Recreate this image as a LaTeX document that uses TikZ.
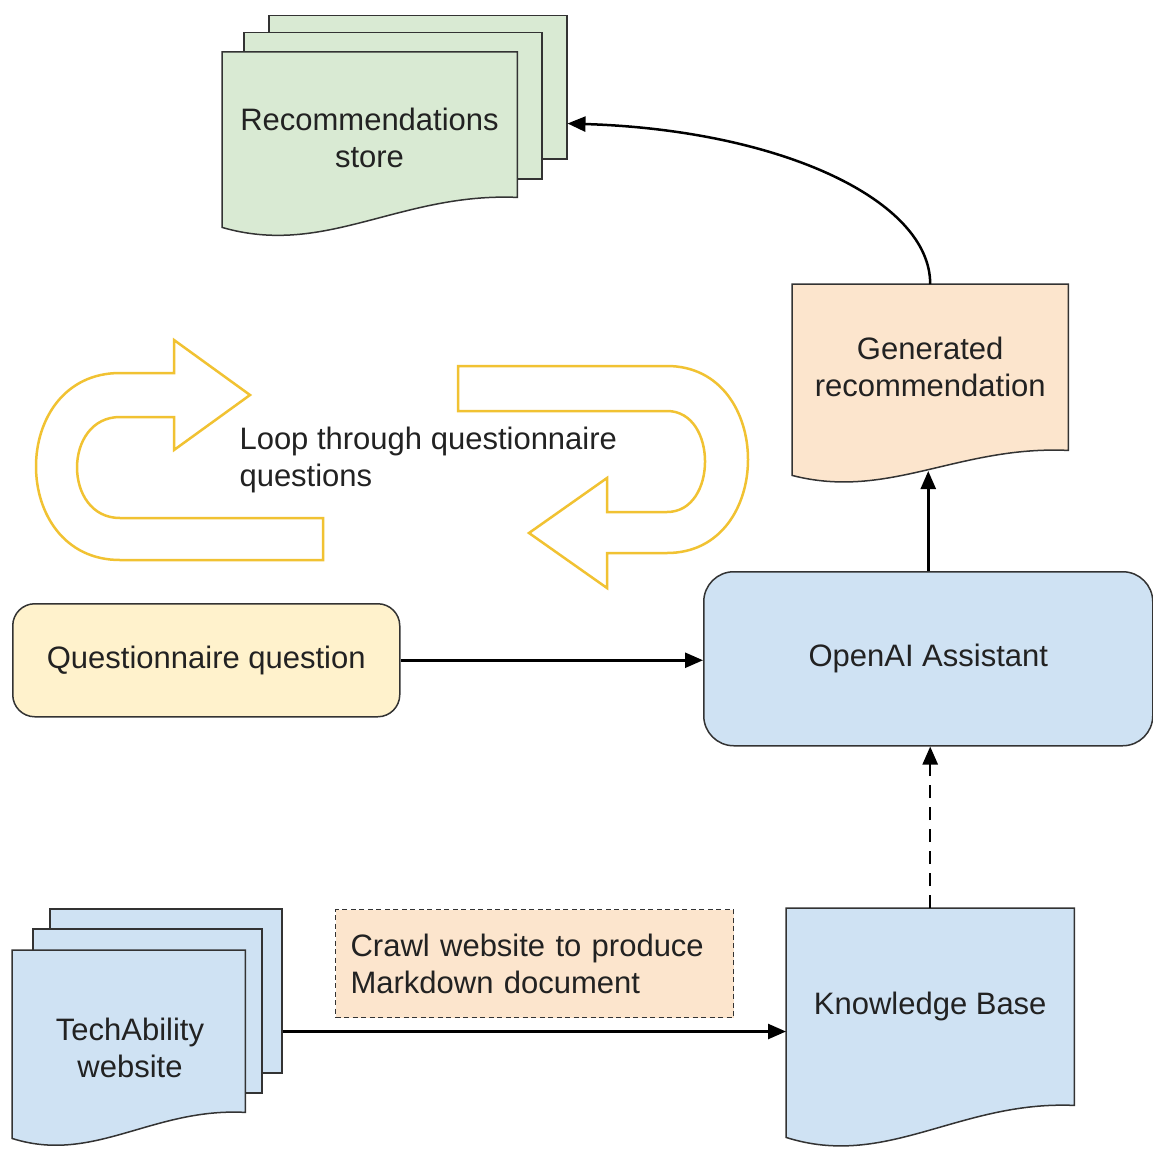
\documentclass[tikz,border=0pt]{standalone}
\usepackage{fontspec}
\setmainfont{Liberation Sans}
\usetikzlibrary{arrows.meta,calc}
\definecolor{cgreen}{HTML}{D9EAD3}
\definecolor{cblue}{HTML}{CFE2F3}
\definecolor{corange}{HTML}{FCE5CD}
\definecolor{cyellow}{HTML}{FFF2CC}
\definecolor{cgold}{HTML}{F1C232}
\definecolor{cline}{HTML}{333333}
\definecolor{ctext}{HTML}{222222}
\newcommand\docwave[3]{%
  \path[shapeline, fill=#2] let \p1=(#1.north west), \p2=(#1.south east) in
    (\p1) -- (\x2,\y1) -- (\p2)
    .. controls ({\x1+0.6*(\x2-\x1)},{\y2+5pt}) and ({\x1+0.35*(\x2-\x1)},{\y2-2*#3}) ..
    (\x1,{\y2-#3}) -- cycle;}
\begin{document}
\begin{tikzpicture}[x=1pt,y=-1pt,
  shapeline/.style={draw=cline, line width=1.5pt},
  sheet/.style={shapeline, inner sep=0pt, anchor=north west},
  shapebox/.style={draw=none, inner sep=0pt, anchor=north west, txt},
  txt/.style={font=\fontsize{31}{37}\selectfont, text=ctext, align=center},
  conn/.style={draw=black, line width=2.5pt, -{Triangle[length=18pt,width=15pt]}},
  loopline/.style={draw=cgold, line width=2.5pt, line join=miter},
]
\useasboundingbox[fill=white] (0,0) rectangle (1153,1148);

% Recommendations store stack
\node[sheet, fill=cgreen, minimum width=298, minimum height=143] (recB) at (268,15) {};
\node[sheet, fill=cgreen, minimum width=298, minimum height=146] (recM) at (243,32) {};
\node[shapebox, minimum width=295, minimum height=145] (recF) at (222,52) {};
\docwave{recF}{cgreen}{30pt}
\node[txt] (recT) at (369.5,138) {Recommendations\\store};

% Generated recommendation
\node[shapebox, minimum width=276, minimum height=166] (gen) at (792,284) {};
\docwave{gen}{corange}{25pt}
\node[txt] (genT) at (gen.center) {Generated\\recommendation};

% Loop arrows
\draw[loopline] (250,395) -- (174,450) -- (174,417) -- (120,417)
  .. controls (62.7,417) and (62.7,518) .. (120,518) -- (323,518) -- (323,560) -- (120,560)
  .. controls (8,560) and (8,373) .. (120,373) -- (174,373) -- (174,340) -- cycle;
\draw[loopline] (458,366) -- (667,366) .. controls (775,366) and (775,553) .. (667,553)
  -- (607,553) -- (607,588) -- (529,533) -- (607,478) -- (607,512) -- (667,512)
  .. controls (717.7,512) and (717.7,411) .. (667,411) -- (458,411) -- cycle;
\node[txt, align=left, anchor=west] (loopT) at (236,460) {Loop through questionnaire\\questions};

% Questionnaire question
\node[sheet, fill=cyellow, rounded corners=22pt, minimum width=387, minimum height=113, txt] (qq) at (12,603) {Questionnaire question};

% OpenAI Assistant
\node[sheet, fill=cblue, rounded corners=30pt, minimum width=449, minimum height=174, txt] (oa) at (703,571) {OpenAI Assistant};

% TechAbility stack
\node[sheet, fill=cblue, minimum width=232, minimum height=164] (techB) at (49,908) {};
\node[sheet, fill=cblue, minimum width=229, minimum height=164] (techM) at (32,928) {};
\node[shapebox, minimum width=233, minimum height=162] (techF) at (12,950) {};
\docwave{techF}{cblue}{26pt}
\node[txt] (techT) at (130,1048) {TechAbility\\website};

% Knowledge base
\node[shapebox, minimum width=288, minimum height=197] (kb) at (786,908) {};
\docwave{kb}{cblue}{32pt}
\node[txt] (kbT) at (kb.center) {Knowledge Base};

% Crawl label
\node[anchor=north west, draw=cline, line width=1.2pt, dash pattern=on 5pt off 3.5pt, fill=corange,
  inner xsep=15pt, inner ysep=0pt, text width=368pt, minimum height=108pt,
  font=\fontsize{31}{37}\selectfont, text=ctext, align=left] (crawl) at (335,909)
  {Crawl website to produce\\Markdown document};

% Connectors
\coordinate (recIn) at ($(recB.south east)+(0,-36)$);
\draw[conn] (gen.north) .. controls +(0,-84) and (780,130) .. (recIn);
\coordinate (genBot) at (928,471);
\draw[conn] (oa.north) -- (oa.north |- genBot);
\draw[conn] (qq.east) -- (qq.east -| oa.west);
\coordinate (techOut) at ($(techB.south east)+(0,-42)$);
\draw[conn] (techOut) -- (techOut -| kb.west);
\draw[conn, dash pattern=on 13pt off 9pt] (kb.north) -- (kb.north |- oa.south);
\end{tikzpicture}
\end{document}
